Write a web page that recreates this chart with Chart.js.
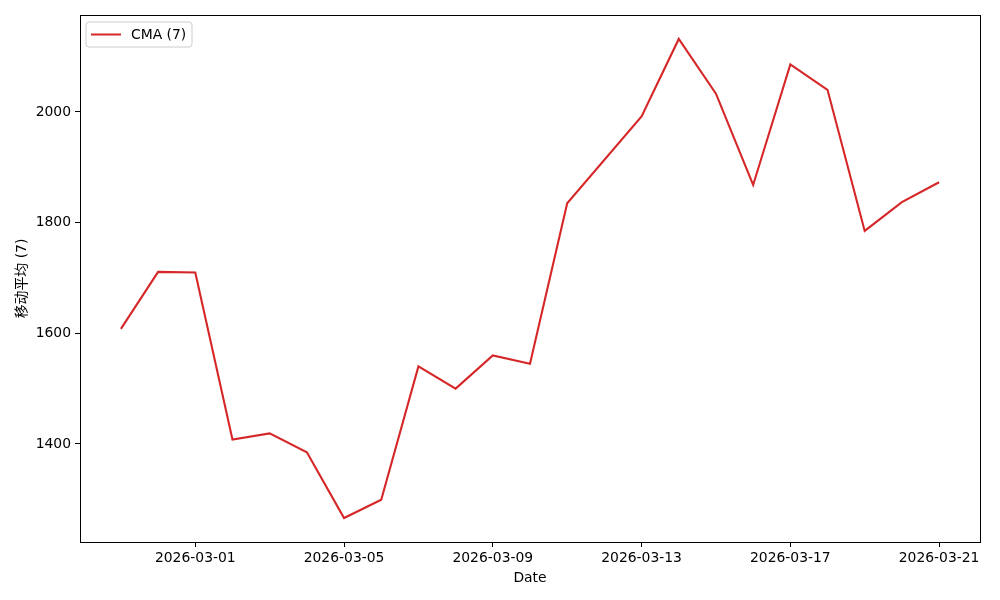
<!DOCTYPE html>
<html>
<head>
<meta charset="utf-8">
<script src="https://cdn.jsdelivr.net/npm/chart.js@4.4.1/dist/chart.umd.min.js"></script>
<style>
  html,body{margin:0;padding:0;background:#fff;}
  #wrap{width:1000px;height:600px;}
</style>
</head>
<body>
<div id="wrap"><canvas id="ch" width="1000" height="600"></canvas></div>
<script>
// ===== 資料 =====
const dates=['2026-02-27','2026-02-28','2026-03-01','2026-03-02','2026-03-03','2026-03-04','2026-03-05',
  '2026-03-06','2026-03-07','2026-03-08','2026-03-09','2026-03-10','2026-03-11','2026-03-13',
  '2026-03-14','2026-03-15','2026-03-16','2026-03-17','2026-03-18','2026-03-19','2026-03-20','2026-03-21'];
const cmaValues=[1608,1711,1710,1408,1419,1385,1266,1299,1540,1500,1560,1545,1835,1992,
  2132,2033,1868,2086,2040,1785,1837,1873];
const xTickLabels=['2026-03-01','2026-03-05','2026-03-09','2026-03-13','2026-03-17','2026-03-21'];
const yTicks=[1400,1600,1800,2000];
const seriesLabel='CMA (7)';
const yTitle='移动平均 (7)';
const xTitle='Date';

// ===== 工具 =====
const DAY=86400000;
const t0=Date.parse(dates[0]+'T00:00:00Z');
const dayIdx=s=>(Date.parse(s+'T00:00:00Z')-t0)/DAY;
const fromIdx=i=>new Date(t0+i*DAY).toISOString().slice(0,10);
const pts=dates.map((d,i)=>({x:dayIdx(d),y:cmaValues[i]}));
const xs=pts.map(p=>p.x), ys=pts.map(p=>p.y);
const pad=(lo,hi)=>{const m=(hi-lo)*0.05; return [lo-m,hi+m];};
const [xMin,xMax]=pad(Math.min(...xs),Math.max(...xs));
const [yMin,yMax]=pad(Math.min(...ys),Math.max(...ys));

const FONT='"DejaVu Sans","Noto Sans CJK SC",sans-serif';
const RED='#d62728';

// 外框 + 圖例（matplotlib 風格）
const framePlugin={
  id:'frame',
  afterDraw(c){
    const a=c.chartArea, g=c.ctx;
    g.save();
    g.strokeStyle='#000'; g.lineWidth=1;
    g.strokeRect(Math.round(a.left)+0.5,Math.round(a.top)+0.5,Math.round(a.right-a.left),Math.round(a.bottom-a.top));
    // legend
    const lx=a.left+6, ly=a.top+7, lw=106, lh=25, r=3;
    g.beginPath();
    g.moveTo(lx+r,ly); g.lineTo(lx+lw-r,ly); g.quadraticCurveTo(lx+lw,ly,lx+lw,ly+r);
    g.lineTo(lx+lw,ly+lh-r); g.quadraticCurveTo(lx+lw,ly+lh,lx+lw-r,ly+lh);
    g.lineTo(lx+r,ly+lh); g.quadraticCurveTo(lx,ly+lh,lx,ly+lh-r);
    g.lineTo(lx,ly+r); g.quadraticCurveTo(lx,ly,lx+r,ly); g.closePath();
    g.fillStyle='rgba(255,255,255,0.8)'; g.fill();
    g.strokeStyle='#cccccc'; g.stroke();
    const ds=c.data.datasets[0];
    g.strokeStyle=ds.borderColor; g.lineWidth=2;
    g.beginPath(); g.moveTo(lx+5,ly+12.5); g.lineTo(lx+35,ly+12.5); g.stroke();
    g.fillStyle='#000'; g.font='13.9px '+FONT; g.textBaseline='middle';
    g.fillText(ds.label,lx+45,ly+13);
    g.restore();
  }
};

new Chart(document.getElementById('ch'),{
  type:'line',
  data:{datasets:[{label:seriesLabel,data:pts,borderColor:RED,backgroundColor:RED,borderWidth:2.1,pointRadius:0,tension:0}]},
  options:{
    responsive:false, animation:false,
    layout:{padding:{top:15,right:20,left:0,bottom:0}},
    plugins:{legend:{display:false},tooltip:{enabled:false}},
    scales:{
      x:{type:'linear',min:xMin,max:xMax,
        afterBuildTicks:s=>{s.ticks=xTickLabels.map(l=>({value:dayIdx(l)}));},
        afterFit:s=>{s.height=58;},
        ticks:{color:'#000',font:{family:FONT,size:13.9},padding:3,maxRotation:0,autoSkip:false,callback:v=>fromIdx(v)},
        grid:{drawOnChartArea:false,tickLength:5,tickColor:'#000'},
        border:{color:'#000'},
        title:{display:true,text:xTitle,color:'#000',font:{family:FONT,size:13.9},padding:{top:0,bottom:13}}
      },
      y:{type:'linear',min:yMin,max:yMax,
        afterBuildTicks:s=>{s.ticks=yTicks.map(v=>({value:v}));},
        afterFit:s=>{s.width=80;},
        ticks:{color:'#000',font:{family:FONT,size:13.9},padding:4,callback:v=>String(v)},
        grid:{drawOnChartArea:false,tickLength:5,tickColor:'#000'},
        border:{color:'#000'},
        title:{display:true,text:yTitle,color:'#000',font:{family:FONT,size:13.9},padding:{top:14,bottom:0}}
      }
    }
  },
  plugins:[framePlugin]
});
</script>
</body>
</html>
